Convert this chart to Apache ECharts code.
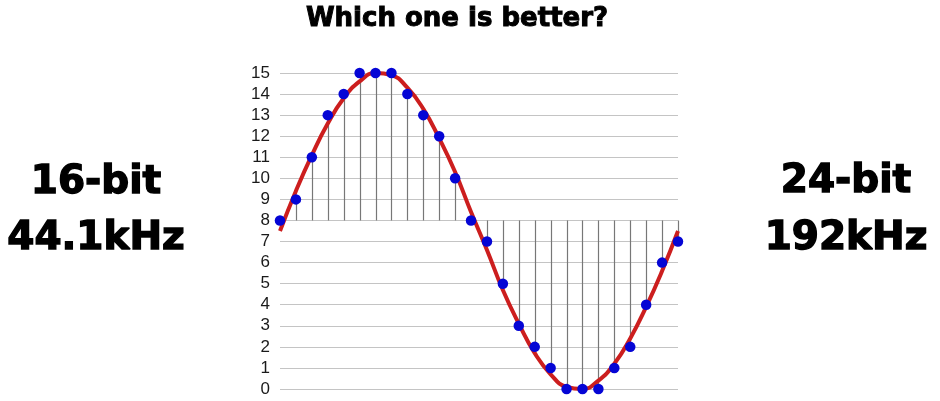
<!DOCTYPE html>
<html>
<head>
<meta charset="utf-8">
<script src="https://cdn.jsdelivr.net/npm/echarts@6/dist/echarts.min.js"></script>
<style>
html,body{margin:0;padding:0;background:#fff;}
#chart{width:940px;height:401px;}
</style>
</head>
<body>
<div id="chart"></div>
<script>
// Sample index (x) positions
var sampleIndex = [0,1,2,3,4,5,6,7,8,9,10,11,12,13,14,15,16,17,18,19,20,21,22,23,24,25];
// Quantized sample values (blue dots)
var sampleValues = [8,9,11,13,14,15,15,15,14,13,12,10,8,7,5,3,2,1,0,0,0,1,2,4,6,7];
// Analog signal (red curve) read at each sample position
var analogValues = [7.5,9.4,11.1,12.6,13.8,14.6,15.0,14.9,14.3,13.3,11.9,10.3,8.4,6.6,4.7,3.1,1.7,0.7,0.1,0.0,0.4,1.2,2.4,3.9,5.6,7.5];
// Baseline for the sample stems
var stemBase = 8;
// Y tick range
var yMin = 0, yMax = 15, yStep = 1;
// Texts
var titleText = 'Which one is better?';
var leftLines = ['16-bit', '44.1kHz'];
var rightLines = ['24-bit', '192kHz'];

var chart = echarts.init(document.getElementById('chart'));

var samplePts = sampleIndex.map(function (x, i) { return [x, sampleValues[i]]; });
var analogPts = sampleIndex.map(function (x, i) { return [x, analogValues[i]]; });

var bigFont = { fontFamily: 'DejaVu Sans', fontWeight: 'bold', fontSize: 39, fill: '#000', stroke: '#000', lineWidth: 1.4, textAlign: 'center', textVerticalAlign: 'middle' };

chart.setOption({
  backgroundColor: '#fff',
  animation: false,
  grid: { left: 280, right: 262, top: 73, bottom: 12 },
  xAxis: {
    type: 'value', min: 0, max: 25,
    show: false
  },
  yAxis: {
    type: 'value', min: yMin, max: yMax, interval: yStep,
    axisLine: { show: false },
    axisTick: { show: false },
    axisLabel: { color: '#1a1a1a', fontSize: 17, fontFamily: 'Liberation Sans', margin: 10 },
    splitLine: { lineStyle: { color: '#c4c4c4', width: 1 } }
  },
  graphic: [
    { type: 'text', x: 457, y: 19, style: { text: titleText, fontFamily: 'DejaVu Sans', fontWeight: 'bold', fontSize: 26, fill: '#000', stroke: '#000', lineWidth: 1, textAlign: 'center', textVerticalAlign: 'middle' } },
    { type: 'text', x: 96, y: 183, style: Object.assign({ text: leftLines[0] }, bigFont) },
    { type: 'text', x: 96, y: 239, style: Object.assign({ text: leftLines[1] }, bigFont) },
    { type: 'text', x: 846, y: 182, style: Object.assign({ text: rightLines[0] }, bigFont) },
    { type: 'text', x: 846, y: 239, style: Object.assign({ text: rightLines[1] }, bigFont) }
  ],
  series: [
    {
      type: 'custom',
      data: samplePts,
      z: 2,
      silent: true,
      renderItem: function (params, api) {
        var p1 = api.coord([api.value(0), stemBase]);
        var p2 = api.coord([api.value(0), api.value(1)]);
        return {
          type: 'line',
          shape: { x1: Math.round(p1[0]) + 0.5, y1: p1[1], x2: Math.round(p2[0]) + 0.5, y2: p2[1] },
          style: { stroke: '#777', lineWidth: 1.2 }
        };
      }
    },
    {
      type: 'line',
      data: analogPts,
      smooth: 0.5,
      showSymbol: false,
      z: 3,
      lineStyle: { color: '#cc1e1e', width: 4 }
    },
    {
      type: 'scatter',
      data: samplePts,
      symbolSize: 10.5,
      z: 4,
      itemStyle: { color: '#0505d5', opacity: 1 }
    }
  ]
});
</script>
</body>
</html>
